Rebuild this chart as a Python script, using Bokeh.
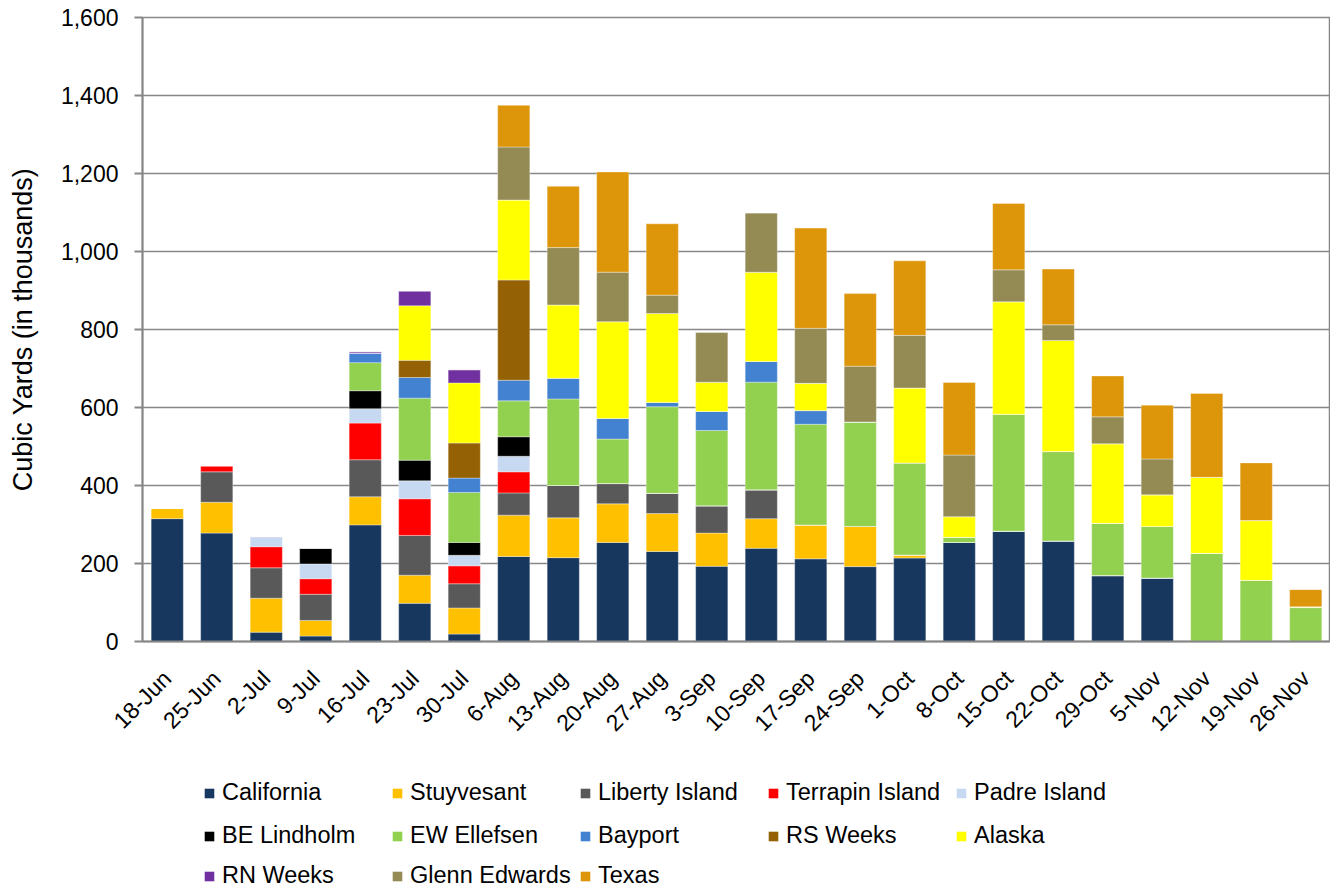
from math import pi
from bokeh.plotting import figure
from bokeh.layouts import column
from bokeh.models import ColumnDataSource, Legend, LegendItem, NumeralTickFormatter, FactorRange
from bokeh.embed import file_html
from bokeh.resources import INLINE

weeks = ["18-Jun", "25-Jun", "2-Jul", "9-Jul", "16-Jul", "23-Jul", "30-Jul", "6-Aug",
         "13-Aug", "20-Aug", "27-Aug", "3-Sep", "10-Sep", "17-Sep", "24-Sep", "1-Oct",
         "8-Oct", "15-Oct", "22-Oct", "29-Oct", "5-Nov", "12-Nov", "19-Nov", "26-Nov"]

california = [315, 278, 24, 14, 299, 98, 19, 218, 215, 254, 231, 193, 239, 212, 192, 214, 254, 283, 258, 169, 163, 0, 0, 0]
stuyvesant = [26, 79, 87, 40, 72, 72, 67, 106, 102, 99, 97, 85, 76, 87, 103, 8, 0, 0, 0, 0, 0, 0, 0, 0]
liberty_island = [0, 78, 78, 67, 95, 102, 62, 57, 83, 52, 52, 70, 74, 0, 0, 0, 0, 0, 0, 0, 0, 0, 0, 0]
terrapin_island = [0, 16, 54, 40, 94, 94, 46, 54, 0, 0, 0, 0, 0, 0, 0, 0, 0, 0, 0, 0, 0, 0, 0, 0]
padre_island = [0, 0, 26, 38, 37, 46, 27, 40, 0, 0, 0, 0, 0, 0, 0, 0, 0, 0, 0, 0, 0, 0, 0, 0]
be_lindholm = [0, 0, 0, 41, 46, 53, 33, 50, 0, 0, 0, 0, 0, 0, 0, 0, 0, 0, 0, 0, 0, 0, 0, 0]
ew_ellefsen = [0, 0, 0, 0, 72, 159, 128, 92, 222, 114, 222, 193, 276, 258, 268, 236, 13, 300, 229, 134, 132, 226, 157, 87]
bayport = [0, 0, 0, 0, 24, 53, 37, 53, 53, 53, 11, 49, 53, 35, 0, 0, 0, 0, 0, 0, 0, 0, 0, 0]
rs_weeks = [0, 0, 0, 0, 0, 44, 90, 257, 0, 0, 0, 0, 0, 0, 0, 0, 0, 0, 0, 0, 0, 0, 0, 0]
alaska = [0, 0, 0, 0, 0, 140, 154, 205, 188, 248, 228, 75, 229, 70, 0, 192, 53, 288, 285, 204, 81, 195, 153, 2]
rn_weeks = [0, 0, 0, 0, 4, 38, 34, 0, 0, 0, 0, 0, 0, 0, 0, 0, 0, 0, 0, 0, 0, 0, 0, 0]
glenn_edwards = [0, 0, 0, 0, 0, 0, 0, 136, 147, 127, 47, 128, 152, 141, 143, 135, 158, 82, 40, 69, 92, 0, 0, 0]
texas = [0, 0, 0, 0, 0, 0, 0, 107, 157, 257, 183, 0, 0, 257, 186, 191, 186, 170, 143, 105, 138, 215, 148, 44]

series_names = ["California", "Stuyvesant", "Liberty Island", "Terrapin Island", "Padre Island",
                "BE Lindholm", "EW Ellefsen", "Bayport", "RS Weeks", "Alaska",
                "RN Weeks", "Glenn Edwards", "Texas"]
series_values = [california, stuyvesant, liberty_island, terrapin_island, padre_island,
                 be_lindholm, ew_ellefsen, bayport, rs_weeks, alaska,
                 rn_weeks, glenn_edwards, texas]
colors = ["#17375E", "#FFC000", "#595959", "#FF0000", "#C6D9F1",
          "#000000", "#92D050", "#4282D0", "#946204", "#FFFF00",
          "#7030A0", "#948A54", "#DD950A"]

data = {"week": weeks}
for n, v in zip(series_names, series_values):
    data[n] = v
source = ColumnDataSource(data)

FONT = "Liberation Sans"
GRAY = "#878787"

# ---- main chart ----
p = figure(width=1330, height=748, x_range=FactorRange(*weeks, range_padding=0),
           y_range=(0, 1600), output_backend="svg", toolbar_location=None,
           min_border_left=142, min_border_right=0, min_border_top=17, min_border_bottom=95)

renderers = p.vbar_stack(series_names, x="week", width=0.65, source=source, color=colors,
                         line_color="white", line_alpha=0.35, line_width=1)

p.xgrid.grid_line_color = None
p.ygrid.grid_line_color = GRAY
p.ygrid.grid_line_width = 1.5
p.outline_line_color = GRAY
p.outline_line_width = 1.5

p.yaxis.formatter = NumeralTickFormatter(format="0,0")
p.yaxis.ticker = [0, 200, 400, 600, 800, 1000, 1200, 1400, 1600]
p.yaxis.axis_label = "Cubic Yards (in thousands)"
p.yaxis.axis_label_text_font = FONT
p.yaxis.axis_label_text_font_size = "27px"
p.yaxis.axis_label_text_font_style = "normal"
p.yaxis.axis_label_text_color = "black"
p.yaxis.axis_label_standoff = 20
p.yaxis.major_label_text_font = FONT
p.yaxis.major_label_text_font_size = "23px"
p.yaxis.major_label_text_color = "black"
p.yaxis.major_label_standoff = 16
p.yaxis.major_tick_in = 0
p.yaxis.major_tick_out = 8
p.yaxis.minor_tick_line_color = None
p.yaxis.axis_line_color = GRAY
p.yaxis.axis_line_width = 2
p.yaxis.major_tick_line_color = GRAY
p.yaxis.major_tick_line_width = 2

p.xaxis.major_label_orientation = pi / 4
p.xaxis.major_label_text_font = FONT
p.xaxis.major_label_text_font_size = "23px"
p.xaxis.major_label_text_color = "black"
p.xaxis.major_label_standoff = 27
p.xaxis.major_tick_line_color = None
p.xaxis.minor_tick_line_color = None
p.xaxis.axis_line_color = GRAY
p.xaxis.axis_line_width = 2

# ---- legend strip: same stacks, drawn on a range where no bar is visible ----
p2 = figure(width=1330, height=140, x_range=p.x_range, y_range=(5000, 6000),
            x_axis_type=None, y_axis_type=None, output_backend="svg",
            toolbar_location=None, min_border=0, min_border_left=142,
            outline_line_color=None)
p2.grid.visible = False

swatches = p2.vbar_stack(series_names, x="week", width=0.65, source=source, color=colors,
                         line_color=None)
items = [LegendItem(label=n, renderers=[r]) for n, r in zip(series_names, swatches)]

row_bottoms = [82, 39, -1]
for k, vy in enumerate(row_bottoms):
    lg = Legend(items=items[5 * k:5 * k + 5], orientation="horizontal",
                location=(61, vy), padding=0, margin=0, spacing=0,
                glyph_width=12, glyph_height=12, label_standoff=7,
                label_width=169, label_height=20,
                label_text_font=FONT, label_text_font_size="23.5px",
                label_text_color="black",
                border_line_color=None, background_fill_alpha=0)
    p2.add_layout(lg, "center")

open("out.html", "w").write(file_html(column(p, p2, spacing=0), INLINE))
